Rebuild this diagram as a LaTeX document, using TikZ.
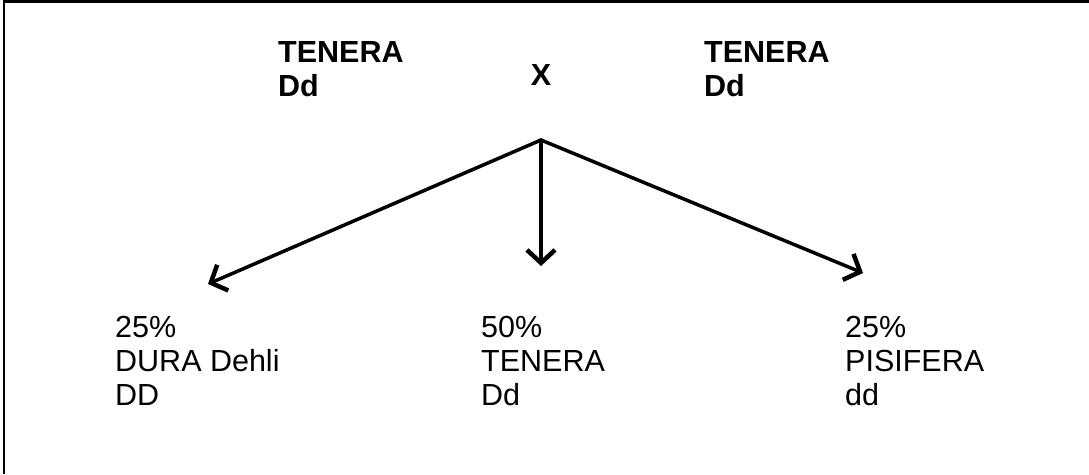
\documentclass[tikz,border=0pt]{standalone}
\usepackage{fontspec}
\setmainfont{Liberation Sans}
\usetikzlibrary{arrows.meta}
\begin{document}
\begin{tikzpicture}[x=1pt,y=-1pt,
  lbl/.style={inner sep=0pt, anchor=base west, align=left, font=\fontsize{30.5}{34}\selectfont},
  boldlbl/.style={lbl, font=\fontsize{30.5}{34}\selectfont\bfseries},
  arr/.style={line width=3.5pt, line cap=round, -{Straight Barb[length=13pt,width=28pt,line width=4.5pt]}}]
\useasboundingbox (0,0) rectangle (1089,474);
\draw[line width=2.5pt] (4,474) -- (4,1.5) -- (1089,1.5);
\node[boldlbl] (p1) at (278,96) {TENERA\\Dd};
\node[boldlbl, anchor=base] (cross) at (541,85) {X};
\node[boldlbl] (p2) at (704,96) {TENERA\\Dd};
\coordinate (apex) at (541,140);
\coordinate (tipl) at (208,284);
\coordinate (tipm) at (541,266);
\coordinate (tipr) at (863,273);
\draw[arr] (apex) -- (tipl);
\draw[arr] (apex) -- (tipm);
\draw[arr] (apex) -- (tipr);
\node[lbl] (c1) at (115,405) {25\%\\DURA Dehli\\DD};
\node[lbl] (c2) at (481,405) {50\%\\TENERA\\Dd};
\node[lbl] (c3) at (845,405) {25\%\\PISIFERA\\dd};
\end{tikzpicture}
\end{document}
